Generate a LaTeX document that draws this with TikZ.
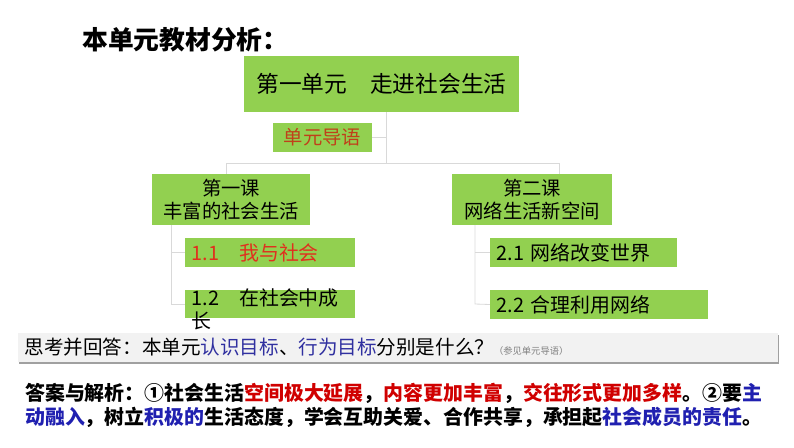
\documentclass[tikz,border=0pt]{standalone}
\usepackage{fontspec}
\newfontfamily\cjk{Noto Sans CJK SC}
\usetikzlibrary{shadows}
\definecolor{boxgreen}{HTML}{92D050}
\definecolor{linkgray}{HTML}{D9D9D9}
\definecolor{introred}{HTML}{C0401A}
\definecolor{secred}{HTML}{E0301E}
\definecolor{askblue}{HTML}{3030A0}
\definecolor{notegray}{HTML}{808080}
\definecolor{barfill}{HTML}{F2F2F2}
\definecolor{barshade}{HTML}{A0A0A0}
\definecolor{ansred}{HTML}{D00000}
\definecolor{ansblue}{HTML}{2020B0}
\tikzset{
  greenbox/.style={fill=boxgreen, inner sep=0pt, font=\cjk\fontsize{16.5}{19.6}\selectfont},
  secbox/.style={greenbox, inner xsep=0.2cm, align=left, font=\cjk\fontsize{17}{19.6}\selectfont},
  link/.style={draw=linkgray, line width=0.7pt},
  askbar/.style={fill=barfill, inner xsep=0.2cm, inner ysep=0pt, align=left, drop shadow={shadow xshift=1.2pt, shadow yshift=-1.5pt, fill=barshade, opacity=1}},
}
\begin{document}
\begin{tikzpicture}[x=0.03cm, y=-0.03cm]
\useasboundingbox (0,0) rectangle (794,447);
\node[anchor=west, inner sep=0pt, font=\cjk\bfseries\fontsize{22}{26}\selectfont] (title) at (82,40) {本单元教材分析：};
\node[greenbox, minimum width=8.25cm, minimum height=1.68cm, font=\cjk\fontsize{19.4}{23}\selectfont] (unit) at (381.5,84) {第一单元　走进社会生活};
\node[greenbox, minimum width=2.97cm, minimum height=0.87cm, text=introred] (intro) at (322.5,137.5) {单元导语};
\node[greenbox, minimum width=4.74cm, minimum height=1.53cm, align=center] (lesson1) at (231,199.5) {第一课\\丰富的社会生活};
\node[greenbox, minimum width=4.8cm, minimum height=1.53cm, align=center] (lesson2) at (532,199.5) {第二课\\网络生活新空间};
\node[secbox, text width=4.7cm, minimum height=0.87cm, text=secred] (sec11) at (270,252.5) {1.1　我与社会};
\node[greenbox, minimum width=5.1cm, minimum height=0.84cm] (sec12) at (270,304) {};
\node[secbox, fill=none, text width=4.7cm, anchor=west] (sec12text) at ([yshift=-0.15cm]sec12.west) {1.2　在社会中成\\长};
\node[secbox, text width=5.21cm, minimum height=0.87cm] (sec21) at (583.5,252.5) {2.1 网络改变世界};
\node[secbox, text width=6.14cm, minimum height=0.87cm] (sec22) at (599,304.5) {2.2 合理利用网络};
\coordinate (trunk) at (386,163);
\coordinate (fork1) at (226,163);
\coordinate (fork2) at (559,163);
\coordinate (stem1) at (171,304);
\coordinate (stem2) at (475,304);
\draw[link] (unit.south -| trunk) -- (trunk);
\draw[link] (intro.east) -- (intro.east -| trunk);
\draw[link] (fork1) -- (fork2);
\draw[link] (fork1) -- (fork1 |- lesson1.north);
\draw[link] (fork2) -- (fork2 |- lesson2.north);
\draw[link] (lesson1.south -| stem1) -- (stem1) -- (sec12.west);
\draw[link] (sec11.west -| stem1) -- (sec11.west);
\draw[link] (lesson2.south -| stem2) -- (stem2) -- (sec22.west);
\draw[link] (sec21.west -| stem2) -- (sec21.west);
\node[askbar, text width=22.4cm, minimum height=0.87cm, font=\cjk\fontsize{16.7}{20}\selectfont] (ask) at (398,347.5) {思考并回答：本单元\textcolor{askblue}{认识目标}、\textcolor{askblue}{行为目标}分别是什么？{\color{notegray}\fontsize{7.9}{9}\selectfont（参见单元导语）}};
\node[anchor=west, inner sep=0pt, align=left, font=\cjk\bfseries\fontsize{17}{20.4}\selectfont] (answer) at (25,405) {答案与解析：①社会生活\textcolor{ansred}{空间极大延展}，\textcolor{ansred}{内容更加丰富}，\textcolor{ansred}{交往形式更加多样}。②要\textcolor{ansblue}{主}\\\textcolor{ansblue}{动融入}，树立\textcolor{ansblue}{积极的}生活态度，学会互助关爱、合作共享，承担起\textcolor{ansblue}{社会成员的责任}。};
\end{tikzpicture}
\end{document}
